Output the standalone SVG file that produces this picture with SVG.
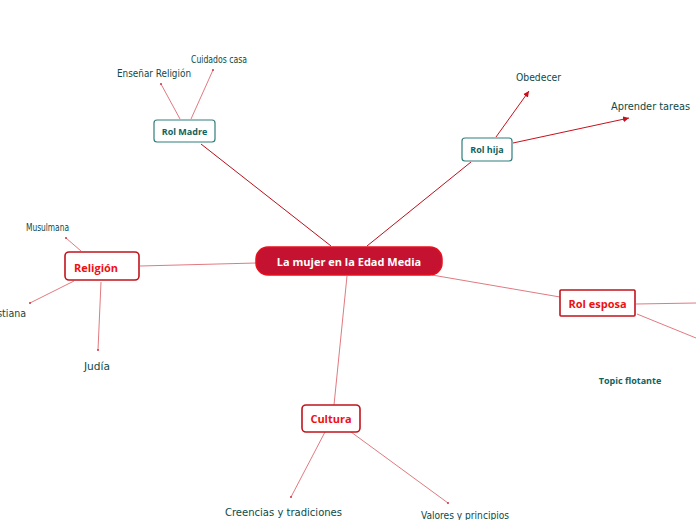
<svg xmlns="http://www.w3.org/2000/svg" width="696" height="520" viewBox="0 0 696 520">
<defs>
<style>
.main{fill:#c41230;stroke:#e8101c;stroke-width:1.5}
.mt{fill:#fff;font-family:"Open Sans","Liberation Sans",sans-serif;font-weight:bold;font-size:11px;text-anchor:middle}
.teal{fill:#fff;stroke:#2f7f7a;stroke-width:1.2}
.tt{fill:#11635e;font-family:"Open Sans","Liberation Sans",sans-serif;font-weight:bold;font-size:9px;text-anchor:middle}
.red{fill:#fff;stroke:#c0141c;stroke-width:1.6}
.rt{fill:#ee1111;font-family:"Open Sans","Liberation Sans",sans-serif;font-weight:bold;font-size:11px;text-anchor:middle}
.hw{fill:#0d4a46;font-family:"DejaVu Sans Condensed","Liberation Sans Narrow",sans-serif;font-size:10px}
.dk{stroke:#b8101c;stroke-width:1;fill:none}
.lt{stroke:#e07a80;stroke-width:1;fill:none}
.ar{stroke:#c8101c;stroke-width:1;fill:none}
.dot{fill:#d23040}
</style>
<marker id="arr" markerWidth="8" markerHeight="8" refX="6" refY="3" orient="auto" markerUnits="userSpaceOnUse">
<path d="M0,0 L6,3 L0,6 Z" fill="#c8101c"/>
</marker>
</defs>
<g id="connectors">
<line class="dk" x1="331" y1="246" x2="201" y2="144"/>
<line class="dk" x1="367" y1="246" x2="471" y2="162"/>
<line class="lt" x1="256" y1="263" x2="140" y2="266"/>
<line class="lt" x1="432" y1="275" x2="560" y2="297"/>
<line class="lt" x1="347" y1="276" x2="334" y2="405"/>
<line class="lt" x1="180" y1="119" x2="161" y2="84"/>
<circle class="dot" cx="161" cy="84" r="1"/>
<line class="lt" x1="191" y1="119" x2="213" y2="70"/>
<circle class="dot" cx="213" cy="70" r="1"/>
<line class="ar" x1="496" y1="137" x2="529" y2="91" marker-end="url(#arr)"/>
<line class="ar" x1="513" y1="143" x2="629" y2="118" marker-end="url(#arr)"/>
<line class="lt" x1="81" y1="251" x2="66" y2="238"/>
<circle class="dot" cx="66" cy="238" r="1"/>
<line class="lt" x1="74" y1="281" x2="30" y2="303"/>
<circle class="dot" cx="30" cy="303" r="1"/>
<line class="lt" x1="101" y1="282" x2="98" y2="350"/>
<circle class="dot" cx="98" cy="350" r="1"/>
<line class="lt" x1="636" y1="304" x2="696" y2="303"/>
<line class="lt" x1="637" y1="314" x2="696" y2="338"/>
<line class="lt" x1="325" y1="432" x2="291" y2="497"/>
<circle class="dot" cx="291" cy="497" r="1"/>
<line class="lt" x1="351" y1="432" x2="448" y2="503"/>
<circle class="dot" cx="448" cy="503" r="1"/>
</g>
<g id="main">
<rect class="main" x="256" y="247" width="186" height="28" rx="12"/>
<text class="mt" x="349" y="265.5">La mujer en la Edad Media</text>
</g>
<g id="rol-madre">
<rect class="teal" x="154" y="120" width="61" height="22" rx="3"/>
<text class="tt" x="184.5" y="134.5">Rol Madre</text>
</g>
<g id="rol-hija">
<rect class="teal" x="462" y="138" width="50" height="23" rx="3"/>
<text class="tt" x="487" y="153">Rol hija</text>
</g>
<g id="religion">
<rect class="red" x="65" y="252" width="74" height="28" rx="4"/>
<text class="rt" x="96" y="271.5">Religión</text>
</g>
<g id="rol-esposa">
<rect class="red" x="560" y="290" width="75" height="26" rx="1"/>
<text class="rt" x="597.5" y="307.5">Rol esposa</text>
</g>
<g id="cultura">
<rect class="red" x="302" y="405" width="58" height="27" rx="4"/>
<text class="rt" x="331" y="422.5">Cultura</text>
</g>
<g id="topic-flotante">
<text class="tt" x="630" y="384">Topic flotante</text>
</g>
<g id="ensenar-religion"><text class="hw" x="117" y="77" textLength="74" lengthAdjust="spacingAndGlyphs">Enseñar Religión</text></g>
<g id="cuidados-casa"><text class="hw" x="191" y="63" font-size="9" textLength="56" lengthAdjust="spacingAndGlyphs">Cuidados casa</text></g>
<g id="obedecer"><text class="hw" x="516" y="81" font-size="11" textLength="45" lengthAdjust="spacingAndGlyphs">Obedecer</text></g>
<g id="aprender-tareas"><text class="hw" x="611" y="110" font-size="11" textLength="79" lengthAdjust="spacingAndGlyphs">Aprender tareas</text></g>
<g id="musulmana"><text class="hw" x="26" y="231" font-size="9" textLength="43" lengthAdjust="spacingAndGlyphs">Musulmana</text></g>
<g id="cristiana"><text class="hw" x="-16" y="317" font-size="9" textLength="42" lengthAdjust="spacingAndGlyphs">Cristiana</text></g>
<g id="judia"><text class="hw" x="84" y="370" font-size="13" textLength="26" lengthAdjust="spacingAndGlyphs">Judía</text></g>
<g id="creencias"><text class="hw" x="225" y="516" font-size="11" textLength="117" lengthAdjust="spacingAndGlyphs">Creencias y tradiciones</text></g>
<g id="valores"><text class="hw" x="421" y="519" font-size="11" textLength="88" lengthAdjust="spacingAndGlyphs">Valores y principios</text></g>
</svg>
